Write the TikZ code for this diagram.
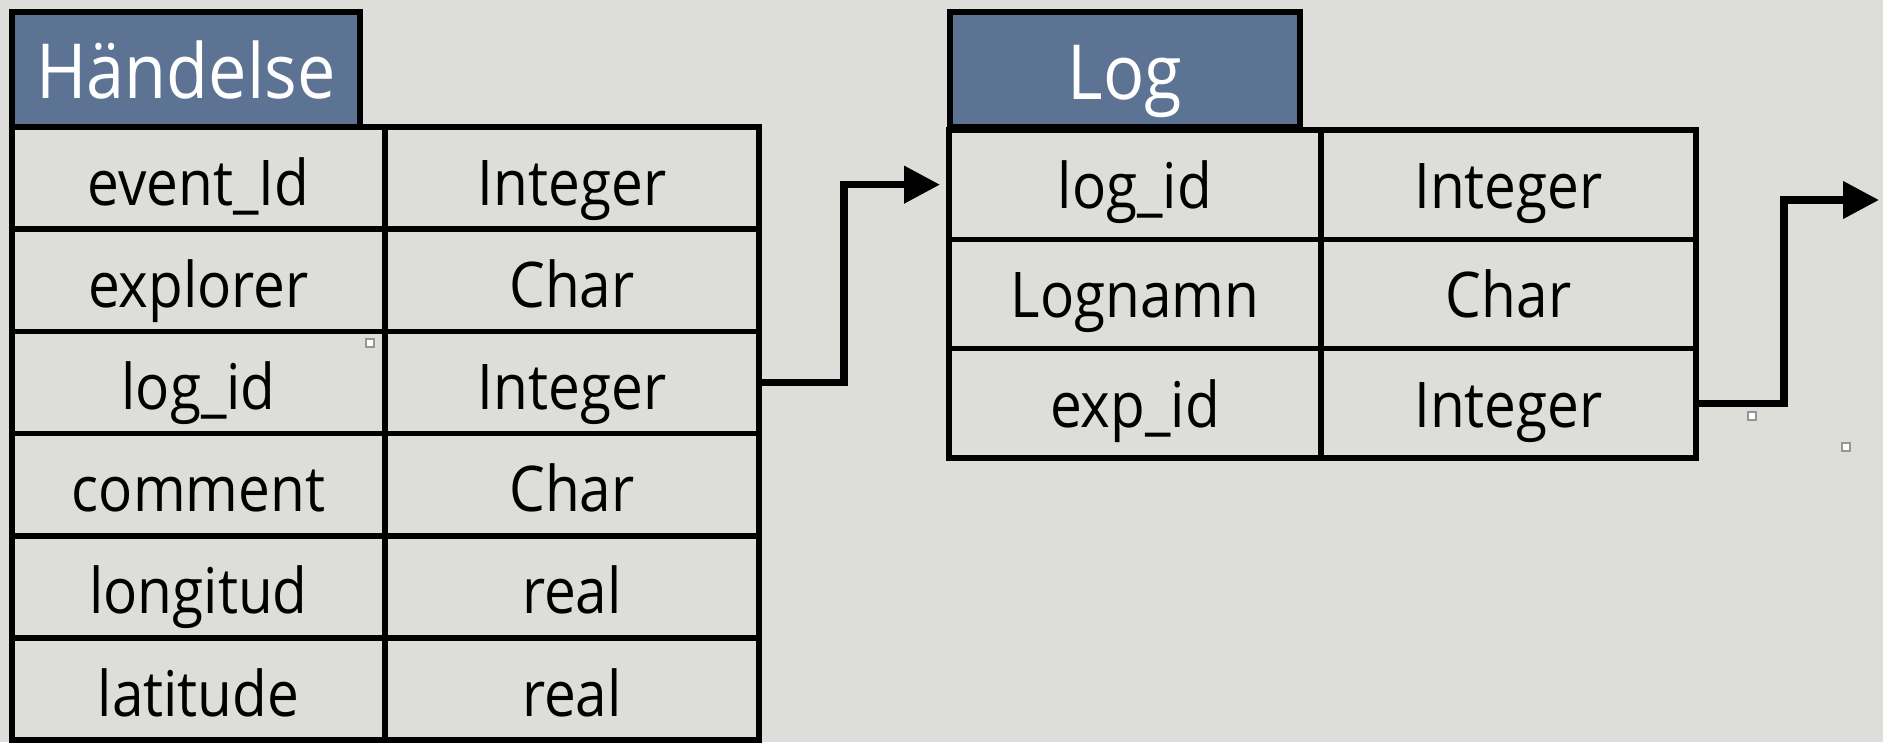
\documentclass[tikz,border=0pt]{standalone}
\usepackage{fontspec}
\setmainfont{Open Sans}[FakeStretch=0.9]
\usetikzlibrary{arrows.meta}
\definecolor{bg}{RGB}{221,222,217}
\definecolor{titlefill}{RGB}{92,115,147}
\definecolor{handle}{RGB}{150,150,150}
\begin{document}
\begin{tikzpicture}[x=1pt,y=-1pt,
  cellbase/.style={draw=black, line width=5.5pt, inner sep=0pt, outer sep=0pt,
    anchor=north west, text depth=0pt, font=\fontsize{63}{63}\selectfont},
  hcell/.style={cellbase, minimum height=102.2pt, text height=54pt},
  lcell/.style={cellbase, minimum height=109.3pt, text height=48pt},
  titlebox/.style={draw=black, line width=5.5pt, fill=titlefill, text=white,
    inner sep=0pt, outer sep=0pt, anchor=north west, minimum height=115pt,
    text depth=0pt, font=\fontsize{76}{76}\selectfont},
  conn/.style={line width=7.5pt, line join=miter, -{Triangle[length=36pt,width=36pt]}},
  handlebox/.style={fill=white, draw=handle, line width=1.5pt}
]
\fill[bg] (0,0) rectangle (1883,742);
\useasboundingbox (0,0) rectangle (1883,742);

% Händelse table
\node[hcell, minimum width=373pt] (h1a) at (12,127)   {event\_Id};
\node[hcell, minimum width=374pt] (h1b) at (385,127)  {Integer};
\node[hcell, minimum width=373pt] (h2a) at (12,229.2) {explorer};
\node[hcell, minimum width=374pt] (h2b) at (385,229.2){Char};
\node[hcell, minimum width=373pt] (h3a) at (12,331.4) {log\_id};
\node[hcell, minimum width=374pt] (h3b) at (385,331.4){Integer};
\node[hcell, minimum width=373pt] (h4a) at (12,433.6) {comment};
\node[hcell, minimum width=374pt] (h4b) at (385,433.6){Char};
\node[hcell, minimum width=373pt] (h5a) at (12,535.8) {longitud};
\node[hcell, minimum width=374pt] (h5b) at (385,535.8){real};
\node[hcell, minimum width=373pt] (h6a) at (12,638)   {latitude};
\node[hcell, minimum width=374pt] (h6b) at (385,638)  {real};
\node[titlebox, minimum width=348pt, text height=57pt] (ht) at (12,12) {Händelse};

% Log table
\node[lcell, minimum width=372pt] (l1a) at (949,130)   {log\_id};
\node[lcell, minimum width=375pt] (l1b) at (1321,130)  {Integer};
\node[lcell, minimum width=372pt] (l2a) at (949,239.3) {Lognamn};
\node[lcell, minimum width=375pt] (l2b) at (1321,239.3){Char};
\node[lcell, minimum width=372pt] (l3a) at (949,348.6) {exp\_id};
\node[lcell, minimum width=375pt] (l3b) at (1321,348.6){Integer};
\node[titlebox, minimum width=350pt, text height=59pt] (lt) at (950,12) {Log};

% connectors
\coordinate (out) at (1879,200);
\draw[conn, shorten >=9pt] (h3b.east) -- ++(85,0) |- (l1a.west);
\draw[conn] (l3b.east) -- ++(88,0) |- (out);

% selection handles
\draw[handlebox] (366,339) rectangle (374,347);
\draw[handlebox] (1748,412) rectangle (1756,420);
\draw[handlebox] (1842,443) rectangle (1850,451);
\end{tikzpicture}
\end{document}
